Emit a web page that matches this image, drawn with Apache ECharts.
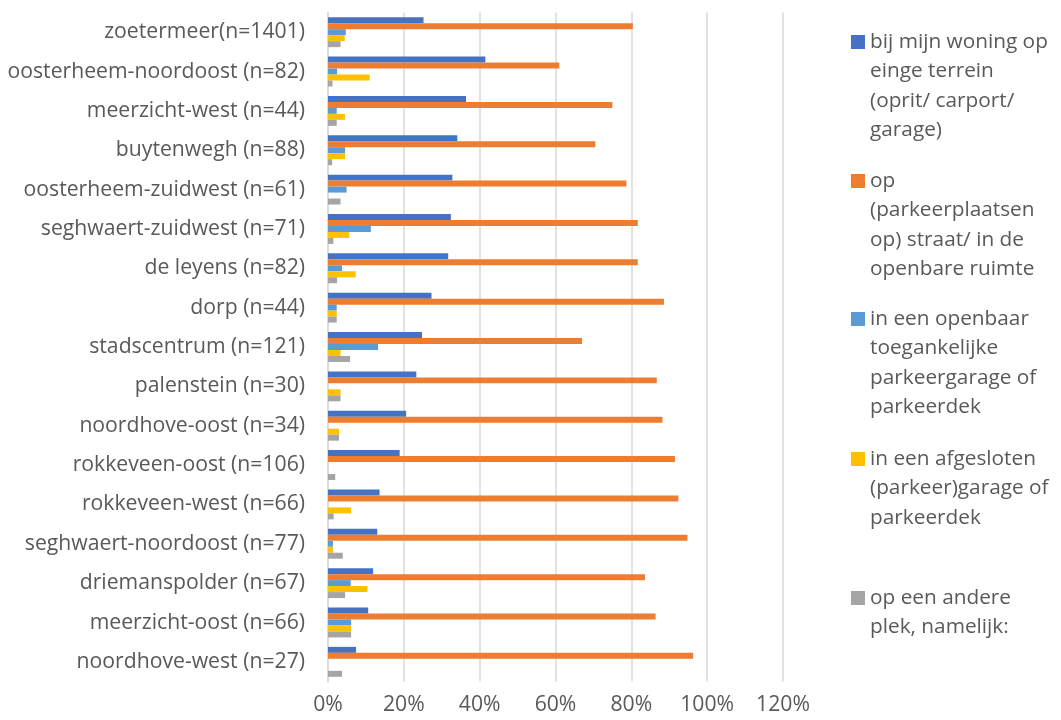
<!DOCTYPE html>
<html><head><meta charset="utf-8">
<script src="https://cdn.jsdelivr.net/npm/echarts@6/dist/echarts.min.js"></script>
<style>html,body{margin:0;padding:0;background:#fff}#c{width:1061px;height:720px}</style>
</head><body><div id="c"></div>
<script>
const categories = ["zoetermeer(n=1401)","oosterheem-noordoost (n=82)","meerzicht-west (n=44)","buytenwegh (n=88)","oosterheem-zuidwest (n=61)","seghwaert-zuidwest (n=71)","de leyens (n=82)","dorp (n=44)","stadscentrum (n=121)","palenstein (n=30)","noordhove-oost (n=34)","rokkeveen-oost (n=106)","rokkeveen-west (n=66)","seghwaert-noordoost (n=77)","driemanspolder (n=67)","meerzicht-oost (n=66)","noordhove-west (n=27)"];
const seriesNames = ["bij mijn woning op einge terrein (oprit/ carport/ garage)","op (parkeerplaatsen op) straat/ in de openbare ruimte","in een openbaar toegankelijke parkeergarage of parkeerdek","in een afgesloten (parkeer)garage of parkeerdek","op een andere plek, namelijk:"];
const legendLines = [
  ["bij mijn woning op","einge terrein","(oprit/ carport/","garage)"],
  ["op","(parkeerplaatsen","op) straat/ in de","openbare ruimte"],
  ["in een openbaar","toegankelijke","parkeergarage of","parkeerdek"],
  ["in een afgesloten","(parkeer)garage of","parkeerdek"],
  ["op een andere","plek, namelijk:"]
];
const eigenTerrein = [25.2,41.5,36.4,34.1,32.8,32.4,31.7,27.3,24.8,23.3,20.6,18.9,13.6,13.0,11.9,10.6,7.4];
const straat = [80.4,61.0,75.0,70.5,78.7,81.7,81.7,88.6,67.0,86.7,88.2,91.5,92.4,94.8,83.6,86.4,96.3];
const openbaarGarage = [4.7,2.4,2.3,4.5,4.9,11.3,3.7,2.3,13.2,0,0,0,0,1.3,6.0,6.1,0];
const afgeslotenGarage = [4.4,11.0,4.5,4.5,0,5.6,7.3,2.3,3.3,3.3,2.9,0,6.1,1.3,10.4,6.1,0];
const andere = [3.3,1.2,2.3,1.1,3.3,1.4,2.4,2.3,5.8,3.3,2.9,1.9,1.5,3.9,4.5,6.1,3.7];

const colors = ["#4472C4","#ED7D31","#5B9BD5","#FFC000","#A5A5A5"];
const seriesData = [eigenTerrein, straat, openbaarGarage, afgeslotenGarage, andere];
const FONT = "Open Sans";
const TXT = "#595959";
const FS = 21.2;
const LH = 29.5;
const legendCenters = [42,181,319,459,598];

const legends = seriesNames.map((name,i)=>{
  const lines = legendLines[i];
  const n = lines.length;
  // leading blank lines so the first text line sits level with the icon
  const txt = new Array(n-1).fill('').concat(lines).join('\n');
  return {
    show:true, orient:'vertical', left:851,
    top: legendCenters[i] - (2*n-1)*LH/2,
    padding:0, itemWidth:14, itemHeight:14, itemGap:0,
    icon:'rect', data:[name], selectedMode:false,
    formatter: ()=>txt,
    textStyle:{color:TXT, fontFamily:FONT, fontSize:20.8, lineHeight:LH}
  };
});

const chart = echarts.init(document.getElementById('c'));
chart.setOption({
  animation:false,
  color:colors,
  legend:legends,
  grid:{left:328, right:278, top:12.5, bottom:38.5, containLabel:false},
  xAxis:{type:'value', min:0, max:120, interval:20,
    axisLabel:{formatter:v=>v+'%', color:TXT, fontFamily:FONT, fontSize:FS, margin:13},
    splitLine:{show:true, lineStyle:{color:'#D9D9D9', width:1.5}},
    axisLine:{show:false}, axisTick:{show:false}},
  yAxis:{type:'category', data:categories, inverse:true,
    axisLabel:{color:TXT, fontFamily:FONT, fontSize:FS, margin:23},
    axisLine:{show:true, lineStyle:{color:'#D9D9D9', width:1.5}},
    axisTick:{show:false}},
  series: seriesNames.map((name,i)=>({
    name, type:'bar', data:seriesData[i],
    barGap:'0%', barCategoryGap:'24%',
    itemStyle:{color:colors[i]}
  }))
});
</script></body></html>
